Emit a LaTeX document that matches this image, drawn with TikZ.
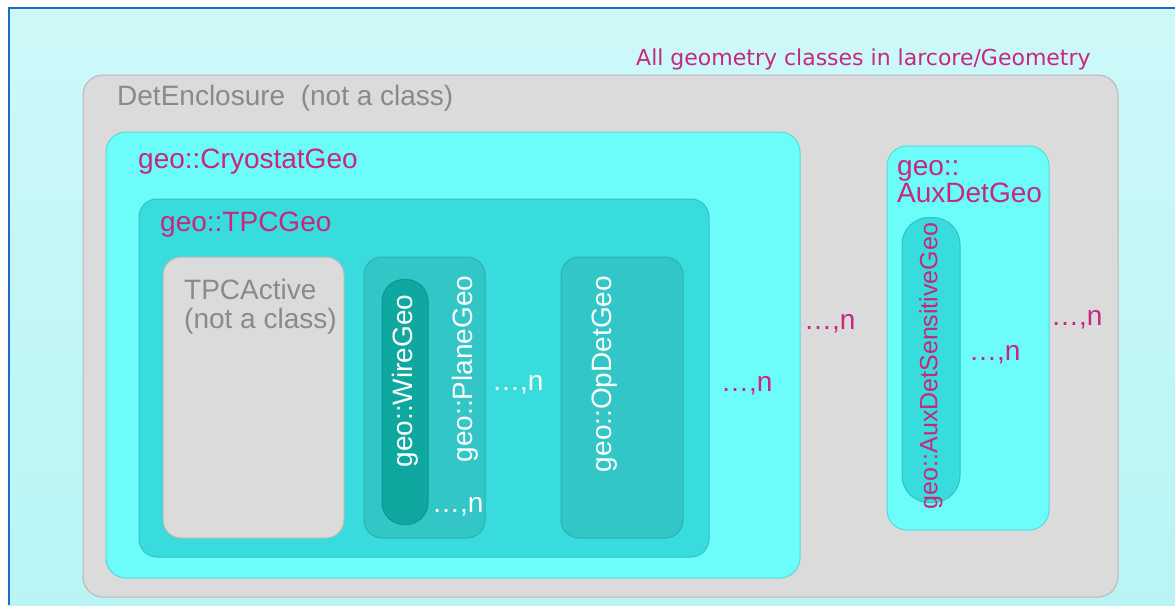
\documentclass[tikz,border=0pt]{standalone}
\usepackage{fontspec}
\setmainfont{Liberation Sans}
\newfontfamily\titlefont{DejaVu Sans}
\definecolor{bgcyan}{HTML}{B9F4F4}
\definecolor{bglight}{HTML}{CDF8F8}
\definecolor{framebl}{HTML}{1B6EC2}
\definecolor{encgray}{HTML}{DBDBDB}
\definecolor{encline}{HTML}{B8B8B8}
\definecolor{cryocyan}{HTML}{6CFCF9}
\definecolor{cryoline}{HTML}{58DADA}
\definecolor{tpccyan}{HTML}{38DCDC}
\definecolor{tpcline}{HTML}{2FC4C4}
\definecolor{planecyan}{HTML}{33C6C6}
\definecolor{planeline}{HTML}{2BB2B2}
\definecolor{wireteal}{HTML}{0EA8A0}
\definecolor{wireline}{HTML}{0A968F}
\definecolor{magtext}{HTML}{C6287E}
\definecolor{graytext}{HTML}{8A8A8A}
\tikzset{
  region/.style={rounded corners=#1, inner sep=0pt, line width=1pt, anchor=center},
  region/.default=18pt,
  enclosure/.style={region=20pt, fill=encgray, draw=encline},
  cryobox/.style={region=20pt, fill=cryocyan, draw=cryoline},
  tpcbox/.style={region=18pt, fill=tpccyan, draw=tpcline},
  activebox/.style={region=18pt, fill=encgray, draw=encline},
  planebox/.style={region=18pt, fill=planecyan, draw=planeline},
  wirebox/.style={region=22pt, fill=wireteal, draw=wireline},
  auxsensbox/.style={region=27pt, fill=tpccyan, draw=tpcline},
  lbl/.style={inner sep=0pt, anchor=base west, font=\fontsize{28}{30}\selectfont},
  maglbl/.style={lbl, text=magtext},
  graylbl/.style={lbl, text=graytext},
  whitelbl/.style={lbl, text=white},
  vlbl/.style={inner sep=0pt, anchor=center, rotate=90, font=\fontsize{28}{30}\selectfont},
}
\begin{document}
\begin{tikzpicture}[x=1pt,y=-1pt]
\useasboundingbox (0,0) rectangle (1175,605);
% page background and window frame
\fill[white] (0,0) rectangle (1175,605);
\shade[top color=bglight, bottom color=bgcyan] (9,8) rectangle (1175,605);
\draw[framebl, line width=2.5pt] (9,605) -- (9,8) -- (1175,8);

% nested containers
\node[enclosure, minimum width=1035pt, minimum height=522pt] (det) at (600.5,336) {};
\node[cryobox, minimum width=694pt, minimum height=446pt] (cryo) at (453,355) {};
\node[tpcbox, minimum width=570pt, minimum height=358pt] (tpc) at (424,378) {};
\node[activebox, minimum width=181pt, minimum height=281pt] (active) at (253.5,397.5) {};
\node[planebox, minimum width=121pt, minimum height=281pt] (plane) at (424.5,397.5) {};
\node[wirebox, minimum width=46pt, minimum height=245pt] (wire) at (405,402) {};
\node[planebox, minimum width=122pt, minimum height=281pt] (opdet) at (622,397.5) {};
\node[cryobox, minimum width=162pt, minimum height=384pt] (aux) at (968,338) {};
\node[auxsensbox, minimum width=58pt, minimum height=285pt] (auxsens) at (931,360) {};

% titles
\node[inner sep=0pt, anchor=base west, text=magtext, font=\titlefont\fontsize{22}{24}\selectfont] (title) at (636,65) {All geometry classes in larcore/Geometry};
\node[graylbl] (detlbl) at (117,105) {DetEnclosure\ \ (not a class)};
\node[maglbl] (cryolbl) at (138,168) {geo::CryostatGeo};
\node[maglbl] (tpclbl) at (160,231) {geo::TPCGeo};
\node[graylbl] (activelbl1) at (184,299) {TPCActive};
\node[graylbl] (activelbl2) at (184,328) {(not a class)};
\node[maglbl] (auxlbl1) at (897,175) {geo::};
\node[maglbl] (auxlbl2) at (897,202) {AuxDetGeo};

% rotated class names
\node[vlbl, text=white] (wirelbl) at (405,381) {geo::WireGeo};
\node[vlbl, text=white] (planelbl) at (465,369) {geo::PlaneGeo};
\node[vlbl, text=white] (opdetlbl) at (605,374) {geo::OpDetGeo};
\node[vlbl, text=magtext, font=\fontsize{25}{27}\selectfont] (auxsenslbl) at (931,366) {geo::AuxDetSensitiveGeo};

% multiplicity marks
\node[whitelbl] (nwire) at (432,512) {…,n};
\node[whitelbl] (nplane) at (492,390) {…,n};
\node[maglbl] (ntpc) at (721,391) {…,n};
\node[maglbl] (ncryo) at (804,329) {…,n};
\node[maglbl] (nsens) at (969,360) {…,n};
\node[maglbl] (naux) at (1051,325) {…,n};
\end{tikzpicture}
\end{document}
